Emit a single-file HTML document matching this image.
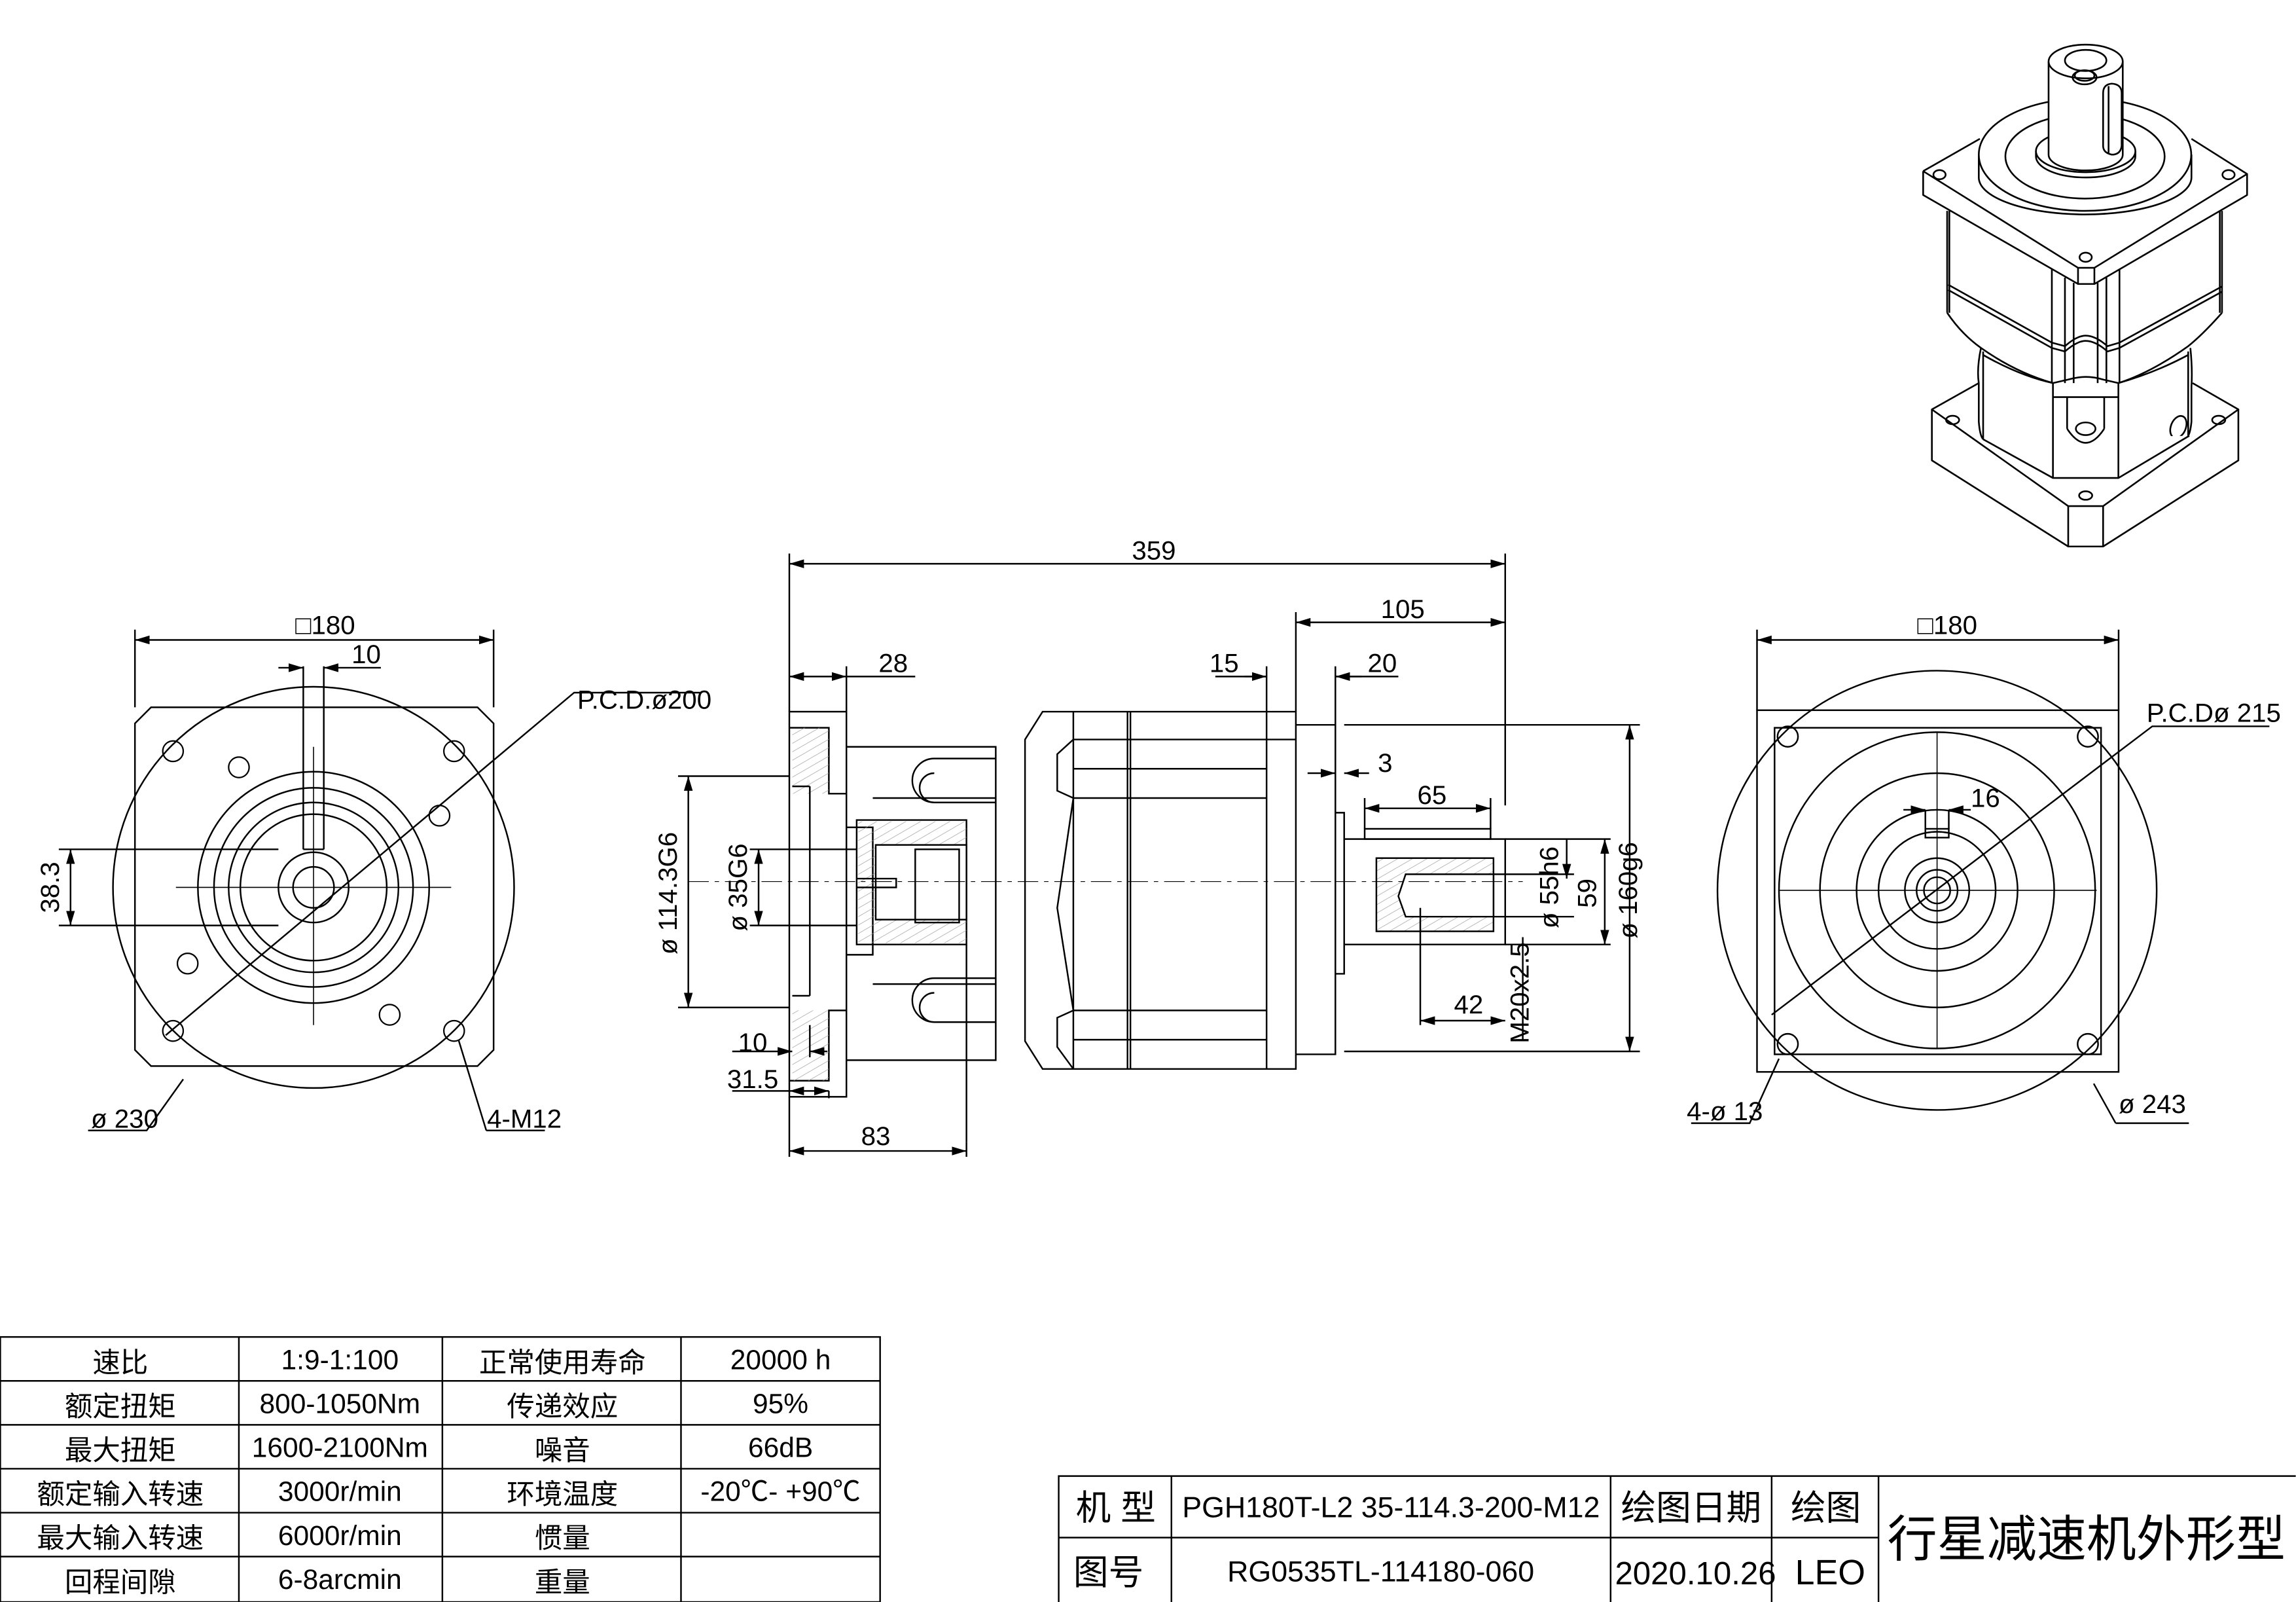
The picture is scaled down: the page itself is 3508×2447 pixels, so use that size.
<!DOCTYPE html>
<html><head><meta charset="utf-8"><style>
html,body{margin:0;padding:0;background:#fff}
svg{display:block}
text{font-family:"Liberation Sans","Noto Sans CJK SC",sans-serif;fill:#000}
.iso *{vector-effect:non-scaling-stroke}
</style></head><body>
<svg width="3508" height="2447" viewBox="0 0 1568 1094" xmlns="http://www.w3.org/2000/svg">
<defs>
<marker id="a" viewBox="0 0 10 6" refX="10" refY="3" markerWidth="10" markerHeight="6" orient="auto-start-reverse" markerUnits="userSpaceOnUse"><path d="M0,0L10,3L0,6z" fill="#000"/></marker>
<pattern id="h" width="5" height="5" patternUnits="userSpaceOnUse" patternTransform="rotate(60)"><line x1="0" y1="0" x2="0" y2="5" stroke="#999" stroke-width="0.6"/></pattern>
</defs>
<rect width="1568" height="1094" fill="#fff"/>
<g fill="none" stroke="#000" stroke-width="1.1">

<!-- LEFT VIEW -->
<path d="M103,483 H326 L337,494 V717 L326,728 H103 L92,717 V494 Z"/>
<circle cx="214" cy="606" r="137"/>
<circle cx="214" cy="606" r="79"/>
<circle cx="214" cy="606" r="68"/>
<circle cx="214" cy="606" r="58"/>
<circle cx="214" cy="606" r="50"/>
<circle cx="214" cy="606" r="24"/>
<circle cx="214" cy="606" r="14"/>
<g stroke-width="1">
<circle cx="118" cy="513" r="7"/><circle cx="310" cy="513" r="7"/><circle cx="118" cy="704" r="7"/><circle cx="310" cy="704" r="7"/>
<circle cx="163" cy="524" r="7"/><circle cx="300" cy="557" r="7"/><circle cx="128" cy="658" r="7"/><circle cx="266" cy="693" r="7"/>
</g>
<path d="M207,455 V580 M221,455 V580 M207,580 H221"/>
<path d="M40,580 H190 M40,632 H190" />
<path d="M120,606 H308 M214,510 V700" stroke-width="0.7"/>
<path d="M113,707 L392,473 H478"/>
<line x1="92" y1="437" x2="337" y2="437" marker-start="url(#a)" marker-end="url(#a)"/>
<path d="M92,430 V483 M337,430 V483"/>
<line x1="190" y1="456" x2="207" y2="456" marker-end="url(#a)"/><line x1="260" y1="456" x2="221" y2="456" marker-end="url(#a)"/>
<line x1="48" y1="580" x2="48" y2="632" marker-start="url(#a)" marker-end="url(#a)"/>
<path d="M60,772 H100 L125,737"/>
<path d="M332,772 H372 M332,772 L313,710"/>

<!-- MIDDLE VIEW -->
<line x1="539" y1="385" x2="1028" y2="385" marker-start="url(#a)" marker-end="url(#a)"/>
<path d="M539,378 V486 M1028,378 V550 M885,418 V486"/>
<line x1="885" y1="425" x2="1028" y2="425" marker-start="url(#a)" marker-end="url(#a)"/>
<line x1="539" y1="462" x2="578" y2="462" marker-start="url(#a)" marker-end="url(#a)"/><path d="M578,462 H625 M578,455 V486"/>
<path d="M830,462 H865 M912,462 H955"/><line x1="850" y1="462" x2="865" y2="462" marker-end="url(#a)"/><line x1="930" y1="462" x2="912" y2="462" marker-end="url(#a)"/><path d="M865,455 V486 M912,455 V495"/>
<rect x="539" y="486" width="39" height="263"/>
<path d="M539,497 H566 V542 H578" /><path d="M539,738 H566 V690 H578"/>
<rect x="541" y="497" width="25" height="45" fill="url(#h)" stroke="none"/>
<rect x="541" y="690" width="25" height="48" fill="url(#h)" stroke="none"/>
<path d="M553,537 V680 M541,537 H553 M541,680 H553"/>
<path d="M578,510 H680 V724 H578 M578,565 H596 V652 H578"/>
<path d="M596,545 H680 M596,672 H680"/>
<path d="M585,560 H660 V645 H585 Z"/>
<rect x="586" y="561" width="74" height="83" fill="url(#h)" stroke="none"/>
<rect x="598" y="577" width="62" height="51" fill="#fff"/>
<rect x="625" y="580" width="30" height="50"/>
<path d="M585,600 H612 V606 H585"/>
<path d="M660,645 V780"/>
<path d="M638,518 H680 M638,548 H680 M638,518 A15,15 0 0,0 638,548 M638,528 A10,10 0 0,0 638,548"/>
<path d="M638,668 H680 M638,698 H680 M638,668 A15,15 0 0,0 638,698 M638,678 A10,10 0 0,0 638,698"/>
<path d="M712,486 H885 V730 H712 L700,711 V505 Z"/>
<path d="M770,486 V730 M772,486 V730 M733,486 V730 M865,486 V730"/>
<path d="M733,505 L722,515 V540 L733,545 M733,545 L722,620 L733,690 M733,690 L722,695 V715 L733,730"/>
<path d="M733,505 H865 M733,525 H865 M733,545 H865 M733,690 H865 M733,710 H865 M865,505 H885"/>
<path d="M885,495 H912 V720 H885"/>
<path d="M912,555 H918 V665 H912"/>
<path d="M918,573 H1028 V645 H918 M1028,573 V645"/>
<path d="M932,566 H1018 V573 H932 Z"/>
<rect x="940" y="586" width="80" height="50" fill="url(#h)"/>
<path d="M960,597 H1020 V626 H960 L955,612 Z" fill="#fff"/>
<path d="M912,602 H1040" stroke-width="0.5" stroke-dasharray="14,4,3,4"/>
<path d="M470,602 H912" stroke-width="0.5" stroke-dasharray="14,4,3,4"/>
<path d="M918,495 H1120 M918,718 H1120"/>
<line x1="1113" y1="495" x2="1113" y2="718" marker-start="url(#a)" marker-end="url(#a)"/>
<line x1="1096" y1="573" x2="1096" y2="645" marker-start="url(#a)" marker-end="url(#a)"/><path d="M1028,573 H1100 M1028,645 H1100"/>
<line x1="1070" y1="573" x2="1070" y2="600" marker-end="url(#a)"/><path d="M1020,597 H1075 M1020,626 H1075"/>
<line x1="932" y1="552" x2="1018" y2="552" marker-start="url(#a)" marker-end="url(#a)"/><path d="M932,545 V566 M1018,545 V566"/>
<line x1="893" y1="528" x2="912" y2="528" marker-end="url(#a)"/><line x1="935" y1="528" x2="918" y2="528" marker-end="url(#a)"/>
<line x1="970" y1="697" x2="1028" y2="697" marker-start="url(#a)" marker-end="url(#a)"/><path d="M970,620 V700 M1040,640 V710"/>
<line x1="470" y1="530" x2="470" y2="688" marker-start="url(#a)" marker-end="url(#a)"/><path d="M463,530 H539 M463,688 H539"/>
<line x1="518" y1="580" x2="518" y2="632" marker-start="url(#a)" marker-end="url(#a)"/><path d="M512,580 H585 M512,632 H585"/>
<line x1="500" y1="718" x2="541" y2="718" marker-end="url(#a)"/><line x1="565" y1="718" x2="553" y2="718" marker-end="url(#a)"/><path d="M553,700 V722"/>
<line x1="539" y1="745" x2="566" y2="745" marker-start="url(#a)" marker-end="url(#a)"/><path d="M500,745 H539 M566,745 V750"/>
<line x1="539" y1="786" x2="660" y2="786" marker-start="url(#a)" marker-end="url(#a)"/><path d="M539,749 V790 M660,780 V790"/>

<!-- RIGHT VIEW -->
<rect x="1200" y="485" width="247" height="247"/>
<rect x="1212" y="497" width="223" height="223"/>
<circle cx="1323" cy="608" r="150"/>
<circle cx="1323" cy="608" r="108"/>
<circle cx="1323" cy="608" r="80"/>
<circle cx="1323" cy="608" r="55"/>
<circle cx="1323" cy="608" r="40"/>
<circle cx="1323" cy="608" r="22"/>
<circle cx="1323" cy="608" r="14"/>
<circle cx="1323" cy="608" r="9"/>
<circle cx="1221" cy="503" r="7"/><circle cx="1426" cy="503" r="7"/><circle cx="1221" cy="713" r="7"/><circle cx="1426" cy="713" r="7"/>
<path d="M1215,608 H1432 M1323,500 V716" stroke-width="0.7"/>
<rect x="1315" y="566" width="16" height="6"/>
<line x1="1300" y1="553" x2="1315" y2="553" marker-end="url(#a)"/><line x1="1346" y1="553" x2="1331" y2="553" marker-end="url(#a)"/><path d="M1315,553 V566 M1331,553 V566"/>
<line x1="1200" y1="437" x2="1447" y2="437" marker-start="url(#a)" marker-end="url(#a)"/><path d="M1200,430 V485 M1447,430 V485"/>
<path d="M1210,693 L1470,496 H1550"/>
<path d="M1155,767 H1195 L1215,723"/>
<path d="M1445,767 H1495 M1445,767 L1430,740"/>

<!-- TABLE -->
<rect x="0" y="913" width="601" height="181"/>
<path d="M0,943 H601 M0,973 H601 M0,1003 H601 M0,1033 H601 M0,1063 H601 M163,913 V1094 M302,913 V1094 M465,913 V1094"/>
<path d="M723,1094 V1008 H1568 M723,1050 H1283 M800,1008 V1094 M1100,1008 V1094 M1210,1008 V1094 M1283,1008 V1094"/>
</g>

<!-- ISO VIEW -->
<g class="iso" transform="translate(1305.3,0) scale(0.149,0.24)" fill="none" stroke="#000" stroke-width="2.6" stroke-linejoin="round">
<path d="M310,1090 L95,1165 L720,1440 H880 L1500,1165 L1290,1090"/>
<path d="M95,1165 V1310 L720,1555 H880 L1500,1310 V1165 M720,1440 V1555 M880,1440 V1555"/>
<ellipse cx="190" cy="1195" rx="30" ry="12"/><ellipse cx="1410" cy="1195" rx="30" ry="12"/><ellipse cx="800" cy="1410" rx="30" ry="12"/>
<ellipse cx="1225" cy="1215" rx="40" ry="28" transform="rotate(-30 1225 1215)"/>
<path d="M330,1250 L650,1360 H950 L1275,1240" fill="#fff"/>
<path d="M320,990 Q300,1050 310,1090 V1200 Q315,1240 330,1250 M330,1000 V1250 M1280,990 Q1290,1050 1285,1100 V1200 Q1280,1230 1270,1240 M1270,1000 V1240"/>
<path d="M330,1010 Q500,1070 650,1090 L720,1080 Q800,1065 880,1080 L950,1090 Q1120,1060 1270,1010"/>
<path d="M650,1090 V1360 M950,1090 V1360 M650,1130 H950"/>
<path d="M715,1130 V1220 M885,1130 V1220 M715,1220 Q800,1300 885,1220"/>
<ellipse cx="800" cy="1220" rx="45" ry="18"/>
<path d="M165,600 V890 M175,600 V890 M1425,600 V890 M1415,600 V890"/>
<path d="M170,810 L645,975 L705,985 Q760,955 800,955 Q845,955 900,985 L955,975 L1425,815"/>
<path d="M170,825 L645,990 L705,1000 Q760,970 800,970 Q845,970 900,1000 L955,990 L1425,830"/>
<path d="M165,890 Q230,950 320,990 Q480,1060 650,1090 M1425,890 Q1340,950 1270,985 Q1100,1060 950,1090"/>
<path d="M645,765 V1090 M705,790 V1090 M745,805 V1090 M855,805 V1090 M895,790 V1090 M955,765 V1090"/>
<path d="M55,487 L765,762 H840 L1540,495 L1285,395 M55,487 L315,395" fill="#fff"/>
<path d="M55,487 V555 L765,808 H840 L1540,555 V495 M765,762 V808 M840,762 V808"/>
<ellipse cx="130" cy="497" rx="28" ry="13"/><ellipse cx="1455" cy="497" rx="28" ry="13"/><ellipse cx="800" cy="732" rx="28" ry="13"/>
<path d="M310,440 V505 A487,105 0 0 0 1285,505 V440" fill="#fff"/>
<ellipse cx="797" cy="440" rx="487" ry="160" fill="#fff"/>
<ellipse cx="797" cy="445" rx="365" ry="120"/>
<path d="M572,430 V445 A228,60 0 0 0 1028,445 V430"/>
<ellipse cx="800" cy="430" rx="228" ry="60" fill="#fff"/>
<path d="M630,175 V440 A170,45 0 0 0 970,440 V175" fill="#fff"/>
<ellipse cx="800" cy="175" rx="170" ry="48" fill="#fff"/>
<ellipse cx="800" cy="172" rx="95" ry="30"/>
<ellipse cx="795" cy="220" rx="55" ry="20"/>
<ellipse cx="795" cy="215" rx="45" ry="15"/>
<path d="M880,265 Q880,240 920,238 Q965,240 965,265 V415 Q960,440 920,440 Q880,435 880,415 Z M905,245 V435"/>
</g>

<g font-size="18" text-anchor="middle">
<text x="222" y="433">□180</text>
<text x="250" y="453">10</text>
<text x="440" y="484">P.C.D.ø200</text>
<text x="40" y="606" transform="rotate(-90 40 606)">38.3</text>
<text x="85" y="770">ø 230</text>
<text x="358" y="770">4-M12</text>
<text x="788" y="382">359</text>
<text x="958" y="422">105</text>
<text x="610" y="459">28</text>
<text x="836" y="459">15</text>
<text x="944" y="459">20</text>
<text x="946" y="527">3</text>
<text x="978" y="549">65</text>
<text x="1003" y="692">42</text>
<text x="514" y="718">10</text>
<text x="514" y="743">31.5</text>
<text x="598" y="782">83</text>
<text x="462" y="610" transform="rotate(-90 462 610)">ø 114.3G6</text>
<text x="510" y="606" transform="rotate(-90 510 606)">ø 35G6</text>
<text x="1064" y="606" transform="rotate(-90 1064 606)">ø 55h6</text>
<text x="1090" y="610" transform="rotate(-90 1090 610)">59</text>
<text x="1118" y="608" transform="rotate(-90 1118 608)">ø 160g6</text>
<text x="1044" y="678" transform="rotate(-90 1044 678)">M20x2.5</text>
<text x="1330" y="433">□180</text>
<text x="1356" y="551">16</text>
<text x="1512" y="493">P.C.Dø 215</text>
<text x="1178" y="765">4-ø 13</text>
<text x="1470" y="760">ø 243</text>
</g>
<g font-size="19" text-anchor="middle">
<text x="82" y="937">速比</text><text x="232" y="935">1:9-1:100</text><text x="384" y="937">正常使用寿命</text><text x="533" y="935">20000 h</text>
<text x="82" y="967">额定扭矩</text><text x="232" y="965">800-1050Nm</text><text x="384" y="967">传递效应</text><text x="533" y="965">95%</text>
<text x="82" y="997">最大扭矩</text><text x="232" y="995">1600-2100Nm</text><text x="384" y="997">噪音</text><text x="533" y="995">66dB</text>
<text x="82" y="1027">额定输入转速</text><text x="232" y="1025">3000r/min</text><text x="384" y="1027">环境温度</text><text x="533" y="1025">-20℃- +90℃</text>
<text x="82" y="1057">最大输入转速</text><text x="232" y="1055">6000r/min</text><text x="384" y="1057">惯量</text>
<text x="82" y="1087">回程间隙</text><text x="232" y="1085">6-8arcmin</text><text x="384" y="1087">重量</text>
</g>
<g font-size="24" text-anchor="middle">
<text x="762" y="1038">机 型</text><text x="950" y="1036" font-size="20">PGH180T-L2 35-114.3-200-M12</text><text x="1155" y="1038">绘图日期</text><text x="1247" y="1038">绘图</text>
<text x="757" y="1082">图号</text><text x="943" y="1080" font-size="20">RG0535TL-114180-060</text><text x="1158" y="1082" font-size="22">2020.10.26</text><text x="1250" y="1082">LEO</text>
<text x="1425" y="1063" font-size="34">行星减速机外形型</text>
</g>
</svg>
</body></html>
